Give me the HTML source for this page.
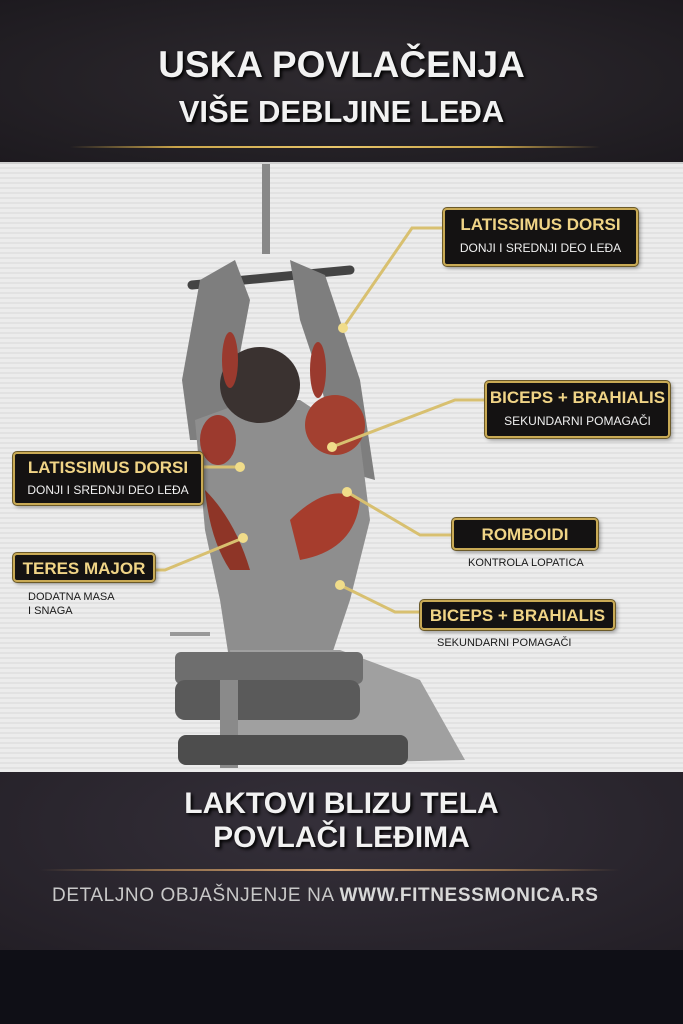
<!DOCTYPE html>
<html><head><meta charset="utf-8"><style>
*{margin:0;padding:0;box-sizing:border-box}
body{width:683px;height:1024px;overflow:hidden;background:#0f0f16;font-family:"Liberation Sans",sans-serif;position:relative}
.top{position:absolute;left:0;top:0;width:683px;height:162px;background:radial-gradient(ellipse at 50% 50%,#2e2a2f,#1d1a1f)}
.panel{position:absolute;left:0;top:162px;width:683px;height:610px;background:repeating-linear-gradient(0deg,#ececec 0 3px,#e2e2e2 3px 5px);border-top:2px solid #cfcfcf}
.bot{position:absolute;left:0;top:772px;width:683px;height:178px;background:radial-gradient(ellipse at 50% 30%,#35303a,#231f26)}
.t{position:absolute;width:683px;text-align:center;color:#f2f2f2;font-weight:bold;text-shadow:2px 2px 3px #000}
.gl{position:absolute;height:2px;background:linear-gradient(90deg,transparent,#c9a44a 20%,#e8c66a 50%,#c9a44a 80%,transparent)}
.box{position:absolute;background:#141212;border:2px solid #c9aa55;border-radius:4px;box-shadow:0 0 0 1px #6b5a2a,2px 2px 4px rgba(0,0,0,.4);text-align:center}
.h{color:#f0d486;font-weight:bold;font-size:17px;white-space:nowrap}
.s{color:#f0f0f0;font-size:12px;white-space:nowrap}
.c{position:absolute;color:#1a1a1a;font-size:11px;white-space:nowrap}
</style></head><body>
<div class="top"></div>
<div class="t" style="top:44px;font-size:37px">USKA POVLAČENJA</div>
<div class="t" style="top:94px;font-size:31px">VIŠE DEBLJINE LEĐA</div>
<div class="gl" style="left:70px;top:146px;width:530px"></div>
<div class="panel"></div>
<svg style="position:absolute;left:0;top:0" width="683" height="1024">
 <rect x="262" y="164" width="8" height="90" fill="#888"/>
 <line x1="192" y1="285" x2="350" y2="270" stroke="#444" stroke-width="9" stroke-linecap="round"/>
 <path d="M200 280 L235 260 L250 300 L235 380 L225 440 L190 440 L182 380 Z" fill="#7e7e7e"/>
 <path d="M290 260 L325 275 L360 380 L375 480 L340 470 L320 380 L300 320 Z" fill="#7e7e7e"/>
 <path d="M195 420 L250 400 L300 400 L360 440 L370 520 L350 600 L330 660 L230 665 L220 600 L205 530 Z" fill="#8e8e8e"/>
 <ellipse cx="260" cy="385" rx="40" ry="38" fill="#3a3230"/>
 <ellipse cx="218" cy="440" rx="18" ry="25" fill="#9c3a2e"/>
 <ellipse cx="335" cy="425" rx="30" ry="30" fill="#a34030"/>
 <path d="M290 520 Q330 480 360 500 Q355 550 300 560 Z" fill="#a63d2d"/>
 <path d="M205 490 Q235 520 250 570 L230 570 Q210 540 205 490Z" fill="#8e3527"/>
 <ellipse cx="230" cy="360" rx="8" ry="28" fill="#9a3a2e"/>
 <ellipse cx="318" cy="370" rx="8" ry="28" fill="#9a3a2e"/>
 <path d="M230 650 L340 650 L420 680 L465 760 L240 765 Z" fill="#a0a0a0"/>
 <rect x="175" y="652" width="188" height="32" rx="6" fill="#6e6e6e"/>
 <rect x="175" y="680" width="185" height="40" rx="10" fill="#5a5a5a"/>
 <rect x="220" y="680" width="18" height="88" fill="#8a8a8a"/>
 <rect x="170" y="632" width="40" height="4" fill="#999"/>
 <rect x="178" y="735" width="230" height="30" rx="8" fill="#4d4d4d"/>
 <g stroke="#d8c070" stroke-width="3" fill="none">
  <polyline points="443,228 412,228 343,328"/>
  <polyline points="485,400 455,400 332,447"/>
  <polyline points="203,467 240,467"/>
  <polyline points="452,535 420,535 347,492"/>
  <polyline points="155,570 165,570 243,538"/>
  <polyline points="420,612 395,612 340,585"/>
 </g>
 <g fill="#f0dc8a"><circle cx="343" cy="328" r="5"/><circle cx="332" cy="447" r="5"/><circle cx="240" cy="467" r="5"/><circle cx="347" cy="492" r="5"/><circle cx="243" cy="538" r="5"/><circle cx="340" cy="585" r="5"/></g>
</svg>
<div class="box" style="left:443px;top:208px;width:195px;height:58px;padding-top:5px"><div class="h">LATISSIMUS DORSI</div><div class="s" style="margin-top:6px">DONJI I SREDNJI DEO LEĐA</div></div>
<div class="box" style="left:485px;top:381px;width:185px;height:57px;padding-top:5px"><div class="h">BICEPS + BRAHIALIS</div><div class="s" style="margin-top:6px">SEKUNDARNI POMAGAČI</div></div>
<div class="box" style="left:13px;top:452px;width:190px;height:53px;padding-top:4px"><div class="h">LATISSIMUS DORSI</div><div class="s" style="margin-top:5px">DONJI I SREDNJI DEO LEĐA</div></div>
<div class="box" style="left:452px;top:518px;width:146px;height:32px;padding-top:5px"><div class="h">ROMBOIDI</div></div>
<div class="c" style="left:468px;top:557px">KONTROLA LOPATICA</div>
<div class="box" style="left:13px;top:553px;width:142px;height:29px;padding-top:4px"><div class="h">TERES MAJOR</div></div>
<div class="c" style="left:28px;top:590px;line-height:14px">DODATNA MASA<br>I SNAGA</div>
<div class="box" style="left:420px;top:600px;width:195px;height:30px;padding-top:4px"><div class="h">BICEPS + BRAHIALIS</div></div>
<div class="c" style="left:437px;top:637px">SEKUNDARNI POMAGAČI</div>
<div class="bot"></div>
<div class="t" style="top:787px;font-size:30px">LAKTOVI BLIZU TELA</div>
<div class="t" style="top:821px;font-size:30px">POVLAČI LEĐIMA</div>
<div class="gl" style="left:40px;top:869px;width:580px;height:2px;background:linear-gradient(90deg,transparent,#8a6a4a 20%,#d0a070 50%,#8a6a4a 80%,transparent)"></div>
<div style="position:absolute;left:52px;top:885px;font-size:19px;color:#c8c8c8;white-space:nowrap;letter-spacing:0.6px">DETALJNO OBJAŠNJENJE NA <b style="color:#d8d8d8">WWW.FITNESSMONICA.RS</b></div>
</body></html>
